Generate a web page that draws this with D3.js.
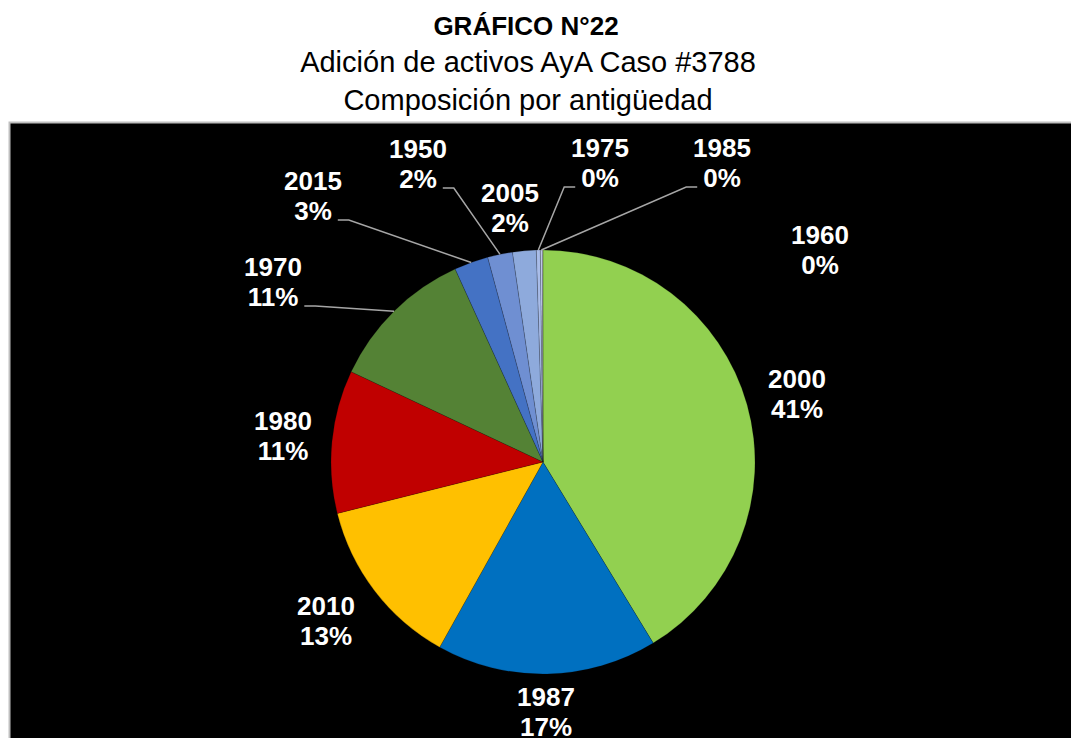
<!DOCTYPE html>
<html lang="es">
<head>
    <meta charset="UTF-8">
    <title>pie</title>
    <script src="https://cdn.jsdelivr.net/npm/d3@7"></script>
    <style>
        body { margin: 0; background: #fff; }
        text { font-family: "Liberation Sans", Arial, sans-serif; }
    </style>
</head>
<body>

<svg width="1071" height="738"></svg>

<script>

    // datos
    var categories = ["2000", "1987", "2010", "1980", "1970", "2015", "1950", "2005", "1975", "1985", "1960"];
    var values = [41.3, 16.8, 13.0, 10.9, 11.2, 2.6, 1.9, 1.8, 0.3, 0.15, 0.05];
    var colors = ["#92d050", "#0070c0", "#ffc000", "#c00000", "#548235", "#4472c4",
                  "#6f8fd2", "#8eaadc", "#a9bde9", "#c4d1f0", "#dae3f3"];

    var titles = ["Adición de activos AyA Caso #3788", "Composición por antigüedad"];

    // posicion de etiquetas (relativa al centro) y lado de la linea guia
    var labelAt = {
        "2000": [254, -74], "1987": [3, 244], "2010": [-217, 153], "1980": [-260, -32],
        "1970": [-270, -186], "2015": [-230, -272], "1950": [-125, -304], "2005": [-33, -260],
        "1975": [57, -305], "1985": [179, -305], "1960": [277, -218]
    };
    var leader = {"1970": "r", "2015": "r", "1950": "r", "1975": "l", "1985": "l"};

    var svg = d3.select("svg");
    var cx = 543, cy = 462, radius = 212;

    // titulos
    svg.append("text")
        .attr("x", 526).attr("y", 35)
        .attr("text-anchor", "middle")
        .attr("font-size", 26).attr("font-weight", "bold")
        .text("GRÁFICO N°22");
    svg.selectAll(".sub").data(titles).enter().append("text")
        .attr("class", "sub")
        .attr("x", 528).attr("y", function (d, i) { return 72 + i * 38; })
        .attr("text-anchor", "middle")
        .attr("font-size", 29)
        .text(function (d) { return d; });

    // fondo negro
    svg.append("rect")
        .attr("x", 9.5).attr("y", 122.5)
        .attr("width", 1100).attr("height", 700)
        .attr("fill", "#000")
        .attr("stroke", "#bfbfbf").attr("stroke-width", 2);

    var data = categories.map(function (c, i) { return {name: c, value: values[i]}; });
    var total = d3.sum(values);
    var fmt = d3.format(".0%");

    var pie = d3.pie().sort(null).value(function (d) { return d.value; });
    var arc = d3.arc().innerRadius(0).outerRadius(radius);
    var color = d3.scaleOrdinal().domain(categories).range(colors);

    var arcs = pie(data);
    var g = svg.append("g").attr("transform", "translate(" + cx + "," + cy + ")");

    g.selectAll("path").data(arcs).enter().append("path")
        .attr("d", arc)
        .attr("fill", function (d) { return color(d.data.name); })
        .attr("stroke", "#000").attr("stroke-width", 0.4).attr("stroke-opacity", 0.4);

    // etiquetas
    var lg = g.append("g");
    var lines = g.append("g");

    arcs.forEach(function (d) {
        var p = labelAt[d.data.name];
        var t = lg.append("text")
            .attr("text-anchor", "middle")
            .attr("font-size", 26).attr("font-weight", "bold")
            .attr("fill", "#fff");
        t.append("tspan").attr("x", p[0]).attr("y", p[1]).text(d.data.name);
        var pct = t.append("tspan").attr("x", p[0]).attr("y", p[1] + 30)
            .text(fmt(d.data.value / total));

        var side = leader[d.data.name];
        if (side) {
            var w = pct.node().getComputedTextLength();
            var a = (d.startAngle + d.endAngle) / 2;
            var ex = Math.sin(a) * radius, ey = -Math.cos(a) * radius;
            var ly = p[1] + 30;
            var x0 = side == "r" ? p[0] + w / 2 + 6 : p[0] - w / 2 - 6;
            var x1 = side == "r" ? x0 + 11 : x0 - 11;
            lines.append("polyline")
                .attr("points", [[x0, ly], [x1, ly], [ex, ey]].join(" "))
                .attr("fill", "none")
                .attr("stroke", "#a6a6a6").attr("stroke-width", 1.5);
        }
    });

</script>
</body>
</html>
